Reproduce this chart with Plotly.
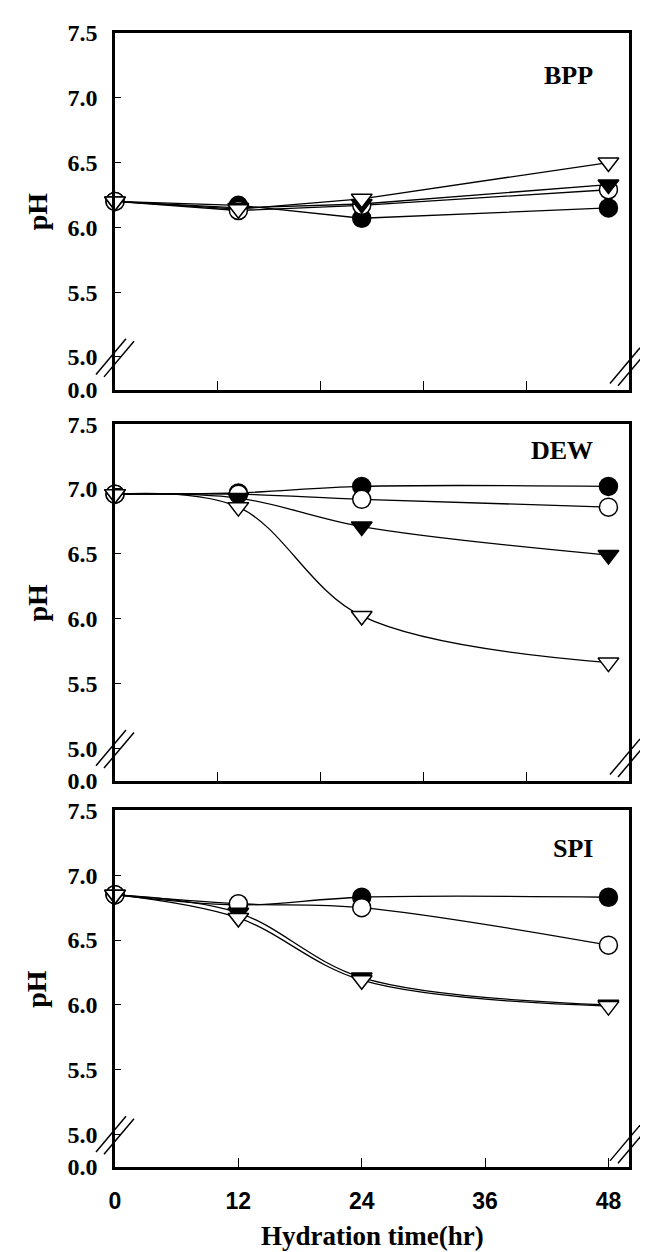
import plotly.graph_objects as go

# ---------------- data ----------------
hours = [0, 12, 24, 48]
panel_names = ["BPP", "DEW", "SPI"]

bpp_filled_circle = [6.20, 6.17, 6.07, 6.15]
bpp_open_circle = [6.20, 6.13, 6.17, 6.29]
bpp_filled_tri = [6.20, 6.15, 6.18, 6.33]
bpp_open_tri = [6.20, 6.14, 6.22, 6.50]

dew_filled_circle = [6.96, 6.97, 7.02, 7.02]
dew_open_circle = [6.96, 6.96, 6.92, 6.86]
dew_filled_tri = [6.96, 6.93, 6.71, 6.49]
dew_open_tri = [6.96, 6.86, 6.02, 5.66]

spi_filled_circle = [6.85, 6.77, 6.83, 6.83]
spi_open_circle = [6.85, 6.78, 6.75, 6.46]
spi_filled_tri = [6.85, 6.71, 6.21, 6.00]
spi_open_tri = [6.85, 6.67, 6.19, 5.99]

y_tick_labels = ["0.0", "5.0", "5.5", "6.0", "6.5", "7.0", "7.5"]
y_tick_values = [4.748, 5.0, 5.5, 6.0, 6.5, 7.0, 7.5]
x_tick_labels = ["0", "12", "24", "36", "48"]
x_tick_values = [0, 12, 24, 36, 48]
x_minor_ticks_top = [10, 20, 30, 40]

panel_data = [
    [bpp_filled_circle, bpp_open_circle, bpp_filled_tri, bpp_open_tri],
    [dew_filled_circle, dew_open_circle, dew_filled_tri, dew_open_tri],
    [spi_filled_circle, spi_open_circle, spi_filled_tri, spi_open_tri],
]

# ---------------- style ----------------
W, H = 648, 1252
L, R, T, B = 107, 621, 14, 1159
PW = R - L
plot_h = B - T
panel_px = [(14, 374), (409, 769), (799, 1159)]
label_offsets = [43, 27, 38]  # px below top of panel for the panel labels
marker_styles = [
    dict(symbol="circle", color="black"),
    dict(symbol="circle", color="white"),
    dict(symbol="triangle-down", color="black"),
    dict(symbol="triangle-down", color="white"),
]
SERIF = "Liberation Serif, Times New Roman, serif"
SANS = "Liberation Sans, Arial, sans-serif"

fig = go.Figure()
layout = dict(
    width=W, height=H,
    margin=dict(l=L, r=W - R, t=T, b=H - B),
    paper_bgcolor="white", plot_bgcolor="white",
    showlegend=False,
)
shapes = []
annotations = []

for i, (name, series) in enumerate(zip(panel_names, panel_data)):
    idx = "" if i == 0 else str(i + 1)
    xa, ya = "x" + idx, "y" + idx
    top, bot = panel_px[i]
    dom = [(B - bot) / plot_h, (B - top) / plot_h]
    shape = "linear" if i == 0 else "spline"
    for vals, ms in zip(series, marker_styles):
        fig.add_trace(go.Scatter(
            x=hours, y=vals, mode="lines+markers", xaxis=xa, yaxis=ya,
            line=dict(color="black", width=1.3, shape=shape),
            marker=dict(symbol=ms["symbol"], color=ms["color"], size=18,
                        line=dict(color="black", width=1.5)),
            cliponaxis=False, showlegend=False,
        ))
    bottom_panel = i == 2
    layout["xaxis" + idx] = dict(
        domain=[0, 1], anchor=ya, range=[0, 50],
        showline=True, linecolor="black", linewidth=2.5, mirror=True,
        showgrid=False, zeroline=False,
        ticks="inside", ticklen=9, tickwidth=1, tickcolor="black",
        tickmode="array",
        tickvals=x_tick_values if bottom_panel else x_minor_ticks_top,
        ticktext=x_tick_labels if bottom_panel else None,
        showticklabels=bottom_panel,
        tickfont=dict(family=SANS, size=23, color="black", weight="bold"),
        ticklabelstandoff=12,
    )
    layout["yaxis" + idx] = dict(
        domain=dom, anchor=xa, range=[y_tick_values[0], 7.5],
        showline=True, linecolor="black", linewidth=2.5, mirror=True,
        showgrid=False, zeroline=False,
        ticks="inside", ticklen=6, tickwidth=1, tickcolor="black",
        tickmode="array", tickvals=y_tick_values, ticktext=y_tick_labels,
        tickfont=dict(family=SERIF, size=24, color="black", weight="bold"),
        ticklabelstandoff=10,
    )
    ph = bot - top
    # panel label
    annotations.append(dict(
        text=name, xref=xa + " domain", yref=ya + " domain",
        x=(587 - L) / PW, y=1 - label_offsets[i] / ph,
        xanchor="right", yanchor="middle", showarrow=False,
        font=dict(family=SERIF, size=26, color="black", weight="bold"),
    ))
    # pH label
    annotations.append(dict(
        text="pH", xref="paper", yref=ya + " domain",
        x=(29 - L) / PW, y=0.5, textangle=-90,
        xanchor="center", yanchor="middle", showarrow=False,
        font=dict(family=SERIF, size=28, color="black", weight="bold"),
    ))
    # axis-break marks (two parallel slashes on left & right axes)
    for cx, cy in [(0, 32), (PW, 23)]:
        for off in (-4, 4):
            x0 = cx - 15 + off
            x1 = cx + 15 + off
            y0 = cy - 18 - off * 0.3
            y1 = cy + 18 - off * 0.3
            shapes.append(dict(
                type="line", xref=xa + " domain", yref=ya + " domain",
                x0=x0 / PW, x1=x1 / PW, y0=y0 / ph, y1=y1 / ph,
                line=dict(color="black", width=1.5),
            ))

annotations.append(dict(
    text="Hydration time(hr)", xref="paper", yref="paper",
    x=0.5, y=(B - 1229) / plot_h, xanchor="center", yanchor="middle",
    showarrow=False,
    font=dict(family=SERIF, size=27, color="black", weight="bold"),
))
layout["shapes"] = shapes
layout["annotations"] = annotations
fig.update_layout(**layout)
fig.write_html("out.html")
